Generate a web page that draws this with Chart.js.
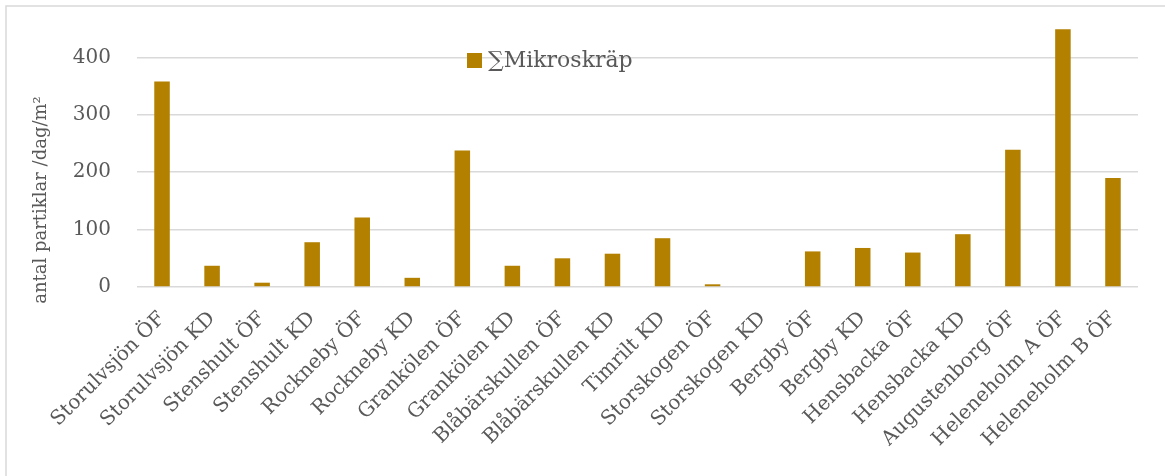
<!DOCTYPE html>
<html>
<head>
<meta charset="utf-8">
<script src="https://cdn.jsdelivr.net/npm/chart.js@4/dist/chart.umd.min.js"></script>
<style>
  html, body { margin: 0; padding: 0; background: #ffffff; }
  #wrap { position: relative; width: 1165px; height: 476px; }
</style>
</head>
<body>
<div id="wrap"><canvas id="mikroChart" width="1165" height="476"></canvas></div>
<script>
// Sampling sites (ÖF / KD)
const sites = [
    "Storulvsjön ÖF", "Storulvsjön KD", "Stenshult ÖF", "Stenshult KD",
    "Rockneby ÖF", "Rockneby KD", "Grankölen ÖF", "Grankölen KD",
    "Blåbärskullen ÖF", "Blåbärskullen KD", "Timrilt KD", "Storskogen ÖF",
    "Storskogen KD", "Bergby ÖF", "Bergby KD", "Hensbacka ÖF",
    "Hensbacka KD", "Augustenborg ÖF", "Heleneholm A ÖF", "Heleneholm B ÖF"
];
// Total microlitter, particles per day and m2
const mikroskrap = [358, 37, 7.5, 78, 121, 16, 238, 37, 50, 58, 85, 4.7, 0, 62, 68, 60, 92, 239, 449, 190];
const yTicks = [0, 100, 200, 300, 400, 500];

const seriesLabel = "∑Mikroskräp";
const yTitle = "antal partiklar /dag/m²";
const barColor = "#b38000";
const textColor = "#595959";
const gridColor = "#d9d9d9";
const serif = "'DejaVu Serif', 'Liberation Serif', serif";

// Frame, legend and rotated axis title are drawn by hand
const extras = {
    id: 'extras',
    afterDraw(chart) {
        const c = chart.ctx;
        const ds = chart.data.datasets[0];
        c.save();
        // outer frame (top and left edges)
        c.strokeStyle = gridColor;
        c.lineWidth = 1.5;
        c.beginPath();
        c.moveTo(6, 476);
        c.lineTo(6, 6);
        c.lineTo(1165, 6);
        c.stroke();

        // legend
        c.fillStyle = ds.backgroundColor;
        c.fillRect(467, 53, 15, 15);
        c.fillStyle = textColor;
        c.font = "22px " + serif;
        c.textAlign = 'left';
        c.textBaseline = 'middle';
        c.fillText(ds.label, 488, 61);

        // y axis title
        c.translate(41, 200);
        c.rotate(-Math.PI / 2);
        c.font = "18px " + serif;
        c.textAlign = 'center';
        c.fillText(yTitle, 0, 0);
        c.restore();
    }
};

const ctx = document.getElementById("mikroChart").getContext("2d");
const mikroChart = new Chart(ctx, {
    type: 'bar',
    data: {
        labels: sites,
        datasets: [{
            label: seriesLabel,
            data: mikroskrap,
            backgroundColor: barColor,
            borderWidth: 0,
            categoryPercentage: 1.0,
            barPercentage: 0.31
        }]
    },
    options: {
        responsive: false,
        devicePixelRatio: 1,
        animation: false,
        layout: {
            padding: {left: 0, top: 0, right: 27, bottom: 0}
        },
        plugins: {
            legend: {display: false},
            tooltip: {enabled: false}
        },
        scales: {
            x: {
                grid: {display: false, drawTicks: false},
                border: {display: false},
                ticks: {
                    color: textColor,
                    font: {family: serif, size: 20},
                    minRotation: 45,
                    maxRotation: 45,
                    autoSkip: false,
                    padding: 20
                },
                afterFit: function (s) {
                    s.height = 189;
                    s.paddingLeft = 0;
                    s.paddingRight = 0;
                }
            },
            y: {
                min: yTicks[0],
                max: yTicks[yTicks.length - 1],
                afterBuildTicks: function (s) {
                    s.ticks = yTicks.map(v => ({value: v}));
                },
                grid: {
                    drawTicks: false,
                    lineWidth: 1.5,
                    color: function (c) {
                        return c.tick && c.tick.value === 500 ? 'rgba(0,0,0,0)' : gridColor;
                    }
                },
                border: {display: false},
                ticks: {
                    color: textColor,
                    font: {family: serif, size: 20},
                    padding: 26,
                    callback: function (v) {
                        return v === 500 ? '' : v;
                    }
                },
                afterFit: function (s) {
                    s.width = 137;
                    s.paddingTop = 0;
                    s.paddingBottom = 0;
                }
            }
        }
    },
    plugins: [extras]
});
</script>
</body>
</html>
